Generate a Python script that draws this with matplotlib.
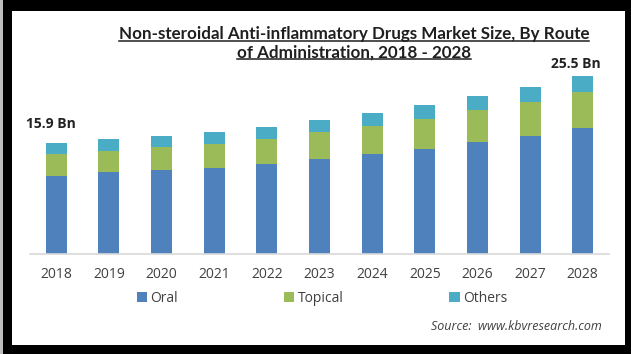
import matplotlib.pyplot as plt
from matplotlib.patches import Patch, Rectangle
from matplotlib.lines import Line2D

years = ["2018", "2019", "2020", "2021", "2022", "2023", "2024", "2025", "2026", "2027", "2028"]
oral = [11.2, 11.7, 12.0, 12.3, 12.9, 13.55, 14.3, 15.1, 16.0, 16.95, 18.0]
topical = [3.15, 3.05, 3.3, 3.45, 3.6, 3.9, 4.05, 4.2, 4.6, 4.8, 5.15]
others = [1.55, 1.8, 1.6, 1.7, 1.75, 1.7, 1.9, 2.05, 2.0, 2.2, 2.35]
callouts = {0: "15.9 Bn", 10: "25.5 Bn"}

W, H = 631, 354
fig = plt.figure(figsize=(W / 100, H / 100), dpi=100)
fig.patch.set_facecolor("black")
fig.patches.append(Rectangle((12 / W, 9 / H), 613 / W, 334 / H, transform=fig.transFigure,
                             facecolor="white", edgecolor="none", zorder=-5))
fig.patches.append(Rectangle((0, 0), 3 / W, 1, transform=fig.transFigure,
                             facecolor="#bdbdbd", edgecolor="none", zorder=-5))

ax = fig.add_axes([30 / W, 100 / H, 579 / W, 194 / H])
ax.set_facecolor("none")

c_oral, c_top, c_oth = "#4f81bd", "#9bbb59", "#4bacc6"
x = range(len(years))
bot2 = [a + b for a, b in zip(oral, topical)]
ax.bar(x, oral, width=0.4, color=c_oral)
ax.bar(x, topical, width=0.4, bottom=oral, color=c_top)
ax.bar(x, others, width=0.4, bottom=bot2, color=c_oth)

ax.set_xlim(-0.5, 10.5)
ax.set_ylim(0, 27.8)
for s in ["top", "right", "left"]:
    ax.spines[s].set_visible(False)
ax.spines["bottom"].set_color("#d9d9d9")
ax.spines["bottom"].set_linewidth(1.2)
ax.set_yticks([])
ax.set_xticks(list(x))
ax.set_xticklabels(years, fontfamily="Open Sans", fontsize=10, color="#404040")
ax.tick_params(axis="x", length=0, pad=9)

totals = [a + b + c for a, b, c in zip(oral, topical, others)]
offsets = {0: (-5, 19), 10: (-7, 12)}
for i, lab in callouts.items():
    ax.annotate(lab, (i, totals[i]), xytext=offsets[i], textcoords="offset pixels",
                ha="center", va="center", fontfamily="Open Sans", fontweight="bold",
                fontsize=10, color="#222222")

# title (two centred lines, underlined)
t1 = fig.text(354 / W, 1 - 34 / H, "Non-steroidal Anti-inflammatory Drugs Market Size, By Route",
              ha="center", va="center", fontfamily="Lato", fontweight="bold", fontsize=11,
              color="#1f1f1f")
t2 = fig.text(354 / W, 1 - 52.5 / H, "of Administration, 2018 - 2028",
              ha="center", va="center", fontfamily="Lato", fontweight="bold", fontsize=11,
              color="#1f1f1f")
fig.canvas.draw()
r = fig.canvas.get_renderer()
w1 = t1.get_window_extent(r).width
size = 11 * 468 / w1
t1.set_fontsize(size)
t2.set_fontsize(size)
fig.canvas.draw()
for t, uy in [(t1, 40.5), (t2, 58.5)]:
    bb = t.get_window_extent(r)
    fig.add_artist(Line2D([bb.x0 / W, bb.x1 / W], [1 - uy / H, 1 - uy / H],
                          transform=fig.transFigure, color="#1f1f1f", lw=1.1))

handles = [Patch(facecolor=c_oral, label="Oral"), Patch(facecolor=c_top, label="Topical"),
           Patch(facecolor=c_oth, label="Others")]
fig.legend(handles=handles, loc="center", bbox_to_anchor=(322 / W, 1 - 298.5 / H), ncol=3,
           frameon=False, prop={"family": "Open Sans", "size": 10},
           labelcolor="#404040", handlelength=0.75, handleheight=0.75,
           handletextpad=0.25, columnspacing=7.6)

fig.text(602 / W, 1 - 326.5 / H, "Source:  www.kbvresearch.com", ha="right", va="center",
         fontfamily="Open Sans", fontstyle="italic", fontsize=9, color="#404040")

fig.savefig("out.png", dpi=100, facecolor=fig.get_facecolor())
